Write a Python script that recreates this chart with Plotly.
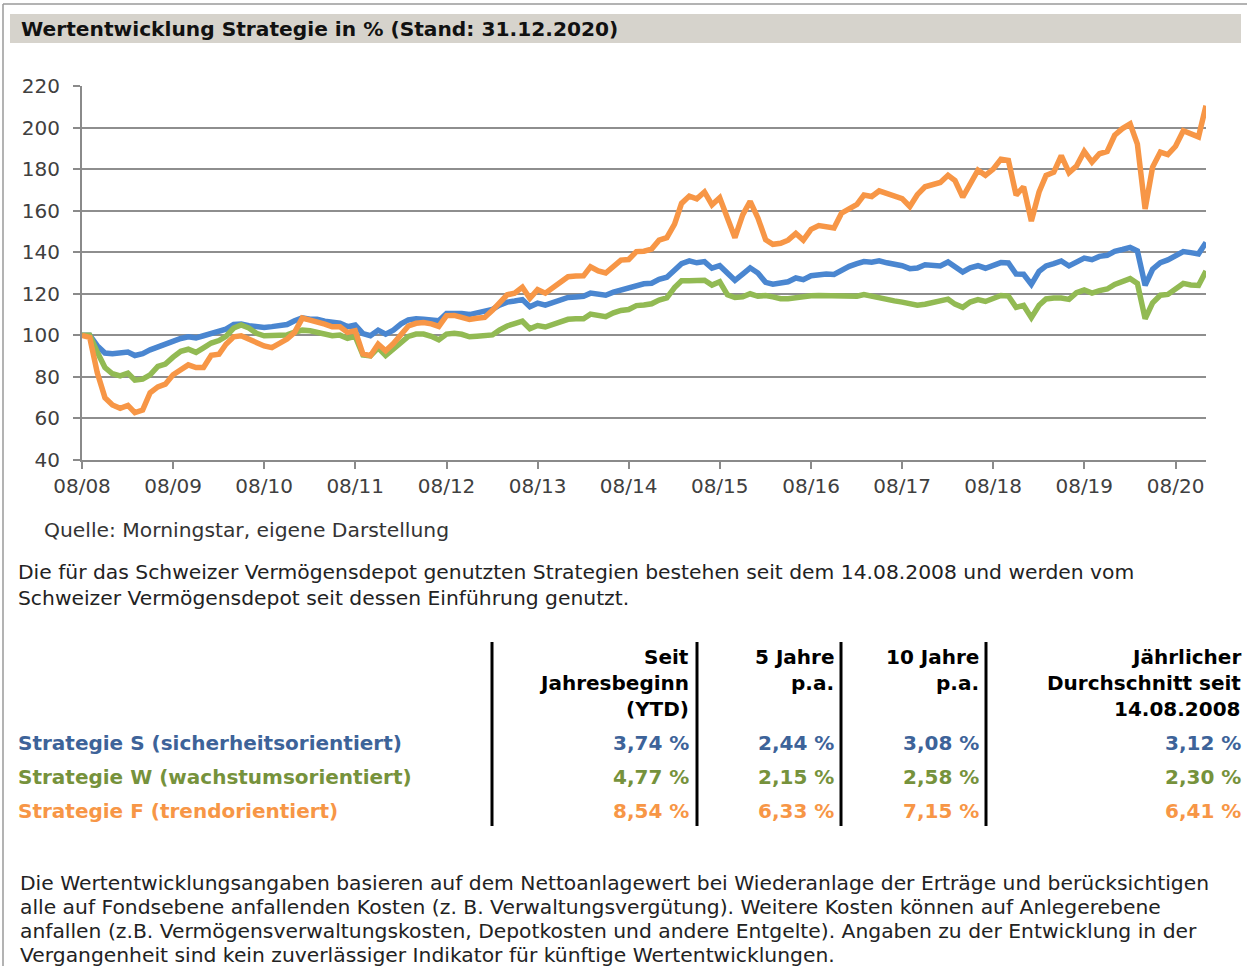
import plotly.graph_objects as go
import pandas as pd

# ---------------- data ----------------
start_date = "2008-08-14"
n_points = 149
tick_labels = ["08/08", "08/09", "08/10", "08/11", "08/12", "08/13", "08/14",
               "08/15", "08/16", "08/17", "08/18", "08/19", "08/20"]
y_ticks = [40, 60, 80, 100, 120, 140, 160, 180, 200, 220]

series_names = ["Strategie S (sicherheitsorientiert)",
                "Strategie W (wachstumsorientiert)",
                "Strategie F (trendorientiert)"]

strategie_s = [
    100, 100, 95, 91.5, 91.2, 91.4, 92, 90.3, 91.2, 93,
    94.5, 95.5, 97, 98.5, 99.3, 98.8, 99.8, 100.8, 101.5, 103,
    105.2, 105.5, 104.6, 104, 103.8, 104.2, 104.6, 105.2, 107, 108.4,
    107.8, 107.8, 106.8, 106, 105.8, 104.2, 105,
    100.8, 99.8, 102.5, 100.6, 102.5, 105.5, 107.4, 108, 107.7, 107.4, 107,
    110.5, 110.7, 110.5, 110, 110.7, 111.2, 112.5, 114.5, 116, 116.5, 117.2, 113.8,
    115.5, 114.5, 115.8, 117, 118.2, 118.5, 118.8, 120.3, 119.8, 119.3, 120.8, 121.8, 122.7, 124,
    124.8, 125.1, 127, 128, 131, 134.5, 135.8, 134.9, 135.5, 132.3, 133.5, 130,
    126.5, 129.5, 132.5, 130, 125.5, 124.6, 125, 125.8, 127.6, 126.8, 128.7, 129.4, 129.5, 129.3,
    131.5, 133.2, 134.5, 135.5, 135.2, 135.9, 134.9, 134.3, 133.5, 132.1, 132.4, 134,
    133.4, 133.4, 135.3, 133, 130.5, 132.5, 133.5, 132.3, 133.5, 135, 134.8, 129.5, 129.4, 124.5,
    130.8, 133.4, 134.5, 135.8, 133.4, 135.3, 137.2, 136.4, 138, 138.5, 140.4, 141.3, 142.3, 140.6,
    124, 131.8, 135, 136.3, 138.3, 140.3, 139.8, 139.2, 144.7,
]

strategie_w = [
    100, 100, 92, 84.5, 81.5, 80.5, 81.8, 78.4, 78.9, 81,
    85, 86.2, 89.5, 92.3, 93.3, 91.8, 94, 96.3, 97.5, 99.5,
    103.5, 105, 103.5, 101, 99.8, 99.8, 100, 100.2, 101.5, 102.5,
    102.2, 101.5, 100.2, 99.8, 100.1, 98.5, 99.5,
    90.5, 90.1, 94, 90.3, 93.5, 96.8, 99.5, 100.6, 100.6, 99.5, 97.8,
    100.6, 101, 100.5, 99.3, 99.6, 99.8, 100.2, 102.5, 104.5, 105.6, 106.8, 103.2,
    104.7, 104, 105, 106.2, 107.7, 108, 108, 110.2, 109.5, 109, 110.8, 112, 112.4, 114.3,
    114.6, 115.2, 117, 118, 123, 126.3, 126.3, 126.2, 126.5, 124.2, 125.8, 119.5,
    118.2, 118.5, 120, 118.8, 119.2, 118.5, 117.6, 117.6, 118.2, 118.7, 119, 119.2, 119.2, 119.2,
    119.2, 119, 118.8, 119.6, 118.7, 118.2, 117.3, 116.6, 116, 115.3, 114.5, 115,
    115.8, 116.2, 117.4, 115, 113.5, 116, 117.2, 116.3, 118, 119.2, 118.9, 113.5, 114.4, 108.5,
    114.5, 117.5, 118, 118, 117.3, 120.5, 121.8, 120.3, 121.5, 122.3, 124.5, 126, 127.3, 125,
    108, 115.6, 119.3, 119.7, 122, 125, 124.2, 124, 131,
]

strategie_f = [
    100, 99, 82.1, 70, 66.5, 64.9, 66.3, 62.8, 64, 72.4,
    75.2, 76.5, 81, 83.7, 85.8, 84.5, 84.5, 90.4, 90.9, 95.7,
    99.3, 99.8, 98.2, 96.5, 94.9, 94.1, 96.1, 98.2, 101.4, 108.3,
    107.3, 106.7, 105.4, 104.1, 104.1, 101.4, 102.2,
    91, 90.2, 95.8, 92.6, 96, 100, 104.5, 105.8, 106.2, 105.5, 104.3,
    109.5, 109.6, 108.6, 107.6, 108.2, 108.6, 112, 116, 119.5, 120.3, 123.2, 117.8,
    122, 120.3, 123, 125.5, 128.2, 128.5, 128.6, 133, 131, 130, 133.5, 136.2, 136.5, 140.3,
    140.5, 141.5, 145.8, 147, 153.5, 163.5, 167, 165.7, 169, 162.8, 166.2, 155.5,
    147, 158, 164.5, 156.5, 146, 143.8, 144.3, 145.8, 149, 145.8, 151, 152.8, 152.2, 151.7,
    158.8, 160.8, 163, 167.5, 166.8, 169.5, 168.3, 167.3, 165.8, 162, 167.7, 171.5,
    172.4, 173.6, 177, 174.5, 166.5, 173, 179.5, 177, 180, 184.8, 184.2, 167.5, 171.5, 155,
    169, 177, 178.5, 186.5, 178.3, 181.5, 188.5, 183.4, 187.4, 188.5, 196.3, 199.5, 201.8, 192,
    160.8, 181, 188.2, 187, 191, 198.5, 197, 195.5, 210.5,
]

table_headers = [["Seit", "Jahresbeginn", "(YTD)"],
                 ["5 Jahre", "p.a."],
                 ["10 Jahre", "p.a."],
                 ["Jährlicher", "Durchschnitt seit", "14.08.2008"]]
table_values = [["3,74 %", "2,44 %", "3,08 %", "3,12 %"],
                ["4,77 %", "2,15 %", "2,58 %", "2,30 %"],
                ["8,54 %", "6,33 %", "7,15 %", "6,41 %"]]

title_text = "Wertentwicklung Strategie in % (Stand: 31.12.2020)"
source_text = "Quelle: Morningstar, eigene Darstellung"
intro_lines = ["Die für das Schweizer Vermögensdepot genutzten Strategien bestehen seit dem 14.08.2008 und werden vom",
               "Schweizer Vermögensdepot seit dessen Einführung genutzt."]
footer_lines = ["Die Wertentwicklungsangaben basieren auf dem Nettoanlagewert bei Wiederanlage der Erträge und berücksichtigen",
                "alle auf Fondsebene anfallenden Kosten (z. B. Verwaltungsvergütung). Weitere Kosten können auf Anlegerebene",
                "anfallen (z.B. Vermögensverwaltungskosten, Depotkosten und andere Entgelte). Angaben zu der Entwicklung in der",
                "Vergangenheit sind kein zuverlässiger Indikator für künftige Wertentwicklungen."]

# ---------------- style ----------------
W, H = 1247, 966
L, R, T, B = 82, 1206, 86, 460
FONT = "DejaVu Sans"
FS = 20
FS_TXT = 20.3
line_colors = ["#4A86D0", "#92BA53", "#F79646"]
text_colors = ["#3D6399", "#76923C", "#F79646"]


def fx(x):
    return (x - L) / (R - L)


def fy(y):
    return (B - y) / (B - T)


dates = pd.date_range(start_date, periods=n_points, freq=pd.DateOffset(months=1))
tick_dates = pd.date_range(start_date, periods=len(tick_labels), freq=pd.DateOffset(years=1))

fig = go.Figure()
for name, vals, col in zip(series_names, [strategie_s, strategie_w, strategie_f], line_colors):
    fig.add_trace(go.Scatter(x=dates, y=vals, mode="lines", name=name,
                             line=dict(color=col, width=5.5), showlegend=False))

shapes = []
annotations = []

# page border
shapes.append(dict(type="line", xref="paper", yref="paper", x0=fx(3), x1=fx(1247), y0=fy(4), y1=fy(4),
                   line=dict(color="#9a9a9a", width=1.5)))
shapes.append(dict(type="line", xref="paper", yref="paper", x0=fx(3), x1=fx(3), y0=fy(4), y1=fy(980),
                   line=dict(color="#9a9a9a", width=1.5)))
# header bar
shapes.append(dict(type="rect", xref="paper", yref="paper", x0=fx(10), x1=fx(1241), y0=fy(14), y1=fy(43),
                   fillcolor="#D6D3CC", line=dict(width=0), layer="below"))
annotations.append(dict(x=fx(19), y=fy(29), xref="paper", yref="paper", text="<b>" + title_text + "</b>",
                        showarrow=False, xanchor="left", yanchor="middle",
                        font=dict(family=FONT, size=20.2, color="#111111")))

# source & intro
annotations.append(dict(x=fx(42), y=fy(530), xref="paper", yref="paper", text=source_text,
                        showarrow=False, xanchor="left", yanchor="middle",
                        font=dict(family=FONT, size=FS_TXT, color="#333333")))
for i, ln in enumerate(intro_lines):
    annotations.append(dict(x=fx(16), y=fy(572 + 26 * i), xref="paper", yref="paper", text=ln,
                            showarrow=False, xanchor="left", yanchor="middle",
                            font=dict(family=FONT, size=FS_TXT, color="#222222")))

# table
col_right = [691, 836, 981, 1243]
for x in [492, 697, 841, 986]:
    shapes.append(dict(type="line", xref="paper", yref="paper", x0=fx(x), x1=fx(x), y0=fy(642), y1=fy(826),
                       line=dict(color="#000000", width=3)))
for ci, hdr in enumerate(table_headers):
    for li, t in enumerate(hdr):
        annotations.append(dict(x=fx(col_right[ci]), y=fy(657 + 26 * li), xref="paper", yref="paper",
                                text="<b>" + t + "</b>", showarrow=False, xanchor="right", yanchor="middle",
                                font=dict(family=FONT, size=FS, color="#000000")))
row_y = [743, 777, 811]
for ri, (name, vals) in enumerate(zip(series_names, table_values)):
    annotations.append(dict(x=fx(16), y=fy(row_y[ri]), xref="paper", yref="paper",
                            text="<b>" + name + "</b>", showarrow=False, xanchor="left", yanchor="middle",
                            font=dict(family=FONT, size=FS, color=text_colors[ri])))
    for ci, v in enumerate(vals):
        annotations.append(dict(x=fx(col_right[ci]), y=fy(row_y[ri]), xref="paper", yref="paper",
                                text="<b>" + v + "</b>", showarrow=False, xanchor="right", yanchor="middle",
                                font=dict(family=FONT, size=FS, color=text_colors[ri])))

# footer
for i, ln in enumerate(footer_lines):
    annotations.append(dict(x=fx(18), y=fy(883 + 24 * i), xref="paper", yref="paper", text=ln,
                            showarrow=False, xanchor="left", yanchor="middle",
                            font=dict(family=FONT, size=FS_TXT, color="#222222")))

fig.update_layout(
    width=W, height=H, autosize=False,
    margin=dict(l=L, r=W - R, t=T, b=H - B, pad=0),
    paper_bgcolor="white", plot_bgcolor="white",
    shapes=shapes, annotations=annotations,
    font=dict(family=FONT, size=FS, color="#404040"),
    xaxis=dict(range=[dates[0], dates[-1]], tickvals=tick_dates, ticktext=tick_labels,
               showgrid=False, zeroline=False, showline=True, linecolor="#8a8a8a", linewidth=2,
               ticks="outside", ticklen=7, tickcolor="#8a8a8a", tickwidth=2,
               tickfont=dict(family=FONT, size=FS, color="#404040")),
    yaxis=dict(range=[40, 220], tickvals=y_ticks, showgrid=True, gridcolor="#8e8e8e", gridwidth=1.8,
               zeroline=False, showline=True, linecolor="#8a8a8a", linewidth=2,
               ticks="outside", ticklen=7, tickcolor="#8a8a8a", tickwidth=2,
               ticklabelstandoff=9,
               tickfont=dict(family=FONT, size=FS, color="#404040")),
)

fig.write_html("out.html", config={"displayModeBar": False},
               post_script="document.body.style.margin='0';document.body.style.overflow='hidden';")
